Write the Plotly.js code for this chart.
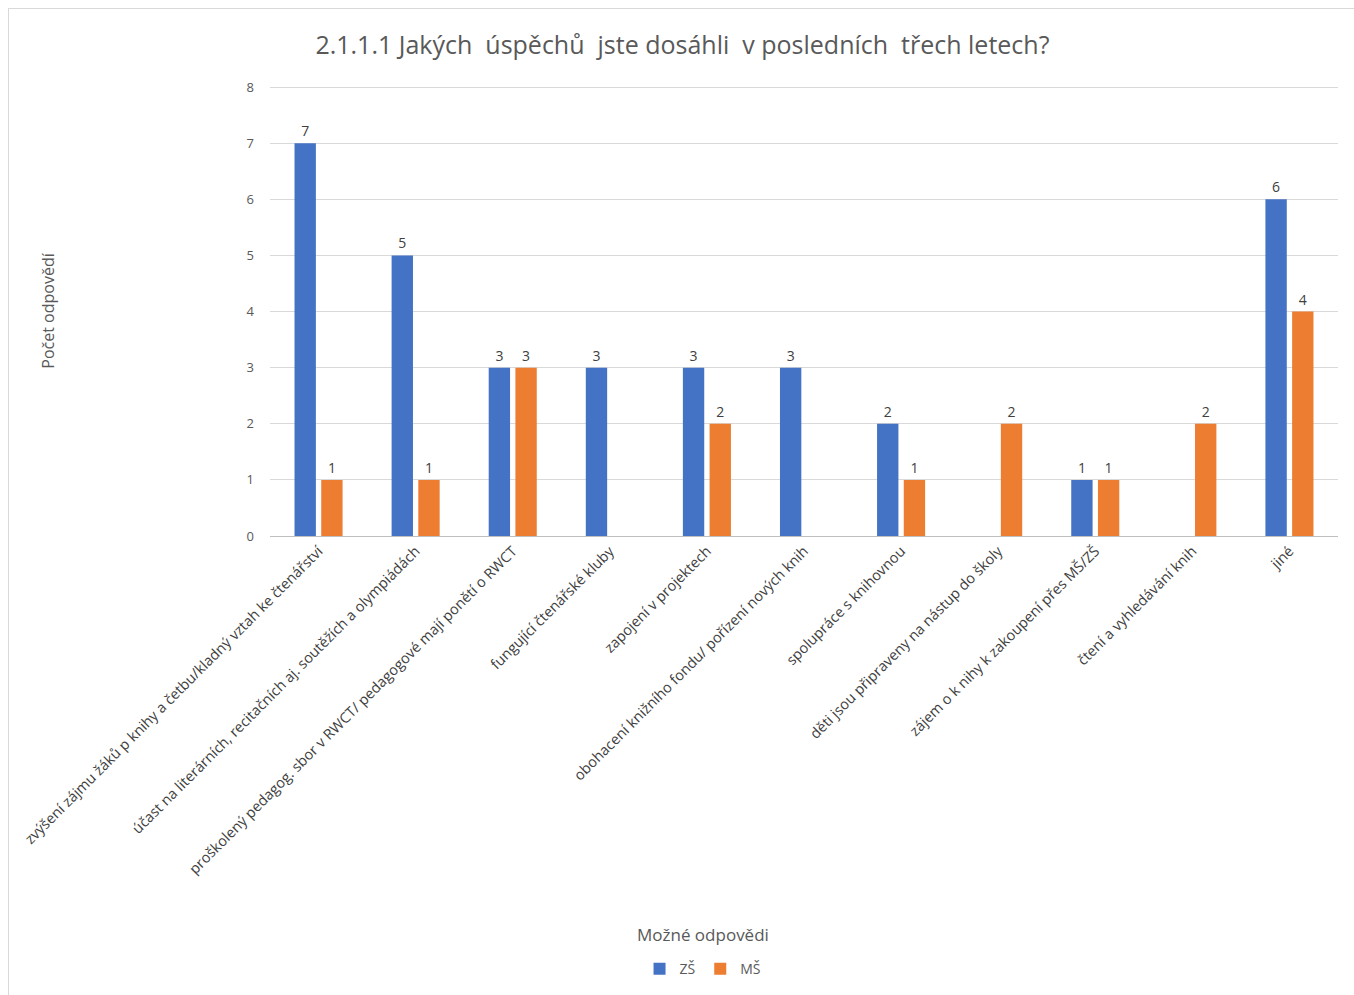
<!DOCTYPE html>
<html>
<head>
<meta charset="utf-8">
<script src="https://cdn.plot.ly/plotly-3.0.1.min.js"></script>
<style>
html,body{margin:0;padding:0;background:#fff;overflow:hidden;}
#frame{position:absolute;left:8px;top:8px;width:1400px;height:1100px;border:1px solid #d9d9d9;box-sizing:border-box;}
#chart{position:absolute;left:0;top:0;width:1354px;height:995px;}
</style>
</head>
<body>
<div id="frame"></div>
<div id="chart"></div>
<script>
const categories = [
  "zvýšení zájmu žáků p knihy a četbu/kladný vztah ke čtenářství",
  "účast na literárních, recitačních aj. soutěžích a olympiádách",
  "proškolený pedagog. sbor v RWCT/ pedagogové mají ponětí o RWCT",
  "fungující čtenářské kluby",
  "zapojení v projektech",
  "obohacení knižního fondu/ pořízení nových knih",
  "spolupráce s knihovnou",
  "děti jsou připraveny na nástup do školy",
  "zájem o k nihy k zakoupení přes MŠ/ZŠ",
  "čtení a vyhledávání knih",
  "jiné"
];
const seriesNames = ["ZŠ", "MŠ"];
const valuesZS = [7, 5, 3, 3, 3, 3, 2, 0, 1, 0, 6];
const valuesMS = [1, 1, 3, 0, 2, 0, 1, 2, 1, 2, 4];
const yTicks = [0, 1, 2, 3, 4, 5, 6, 7, 8];
const titleText = "2.1.1.1 Jakých  úspěchů  jste dosáhli  v posledních  třech letech?";
const xTitle = "Možné odpovědi";
const yTitle = "Počet odpovědí";

const FONT = "Open Sans, Noto Sans, sans-serif";
const labelOf = v => v ? String(v) : "";

const traces = [
  {type:"bar", name:seriesNames[0], x:categories, y:valuesZS, marker:{color:"#4472C4"},
   text:valuesZS.map(labelOf), textposition:"outside", cliponaxis:false,
   textfont:{size:14, color:"#404040", family:FONT}, hoverinfo:"y"},
  {type:"bar", name:seriesNames[1], x:categories, y:valuesMS, marker:{color:"#ED7D31"},
   text:valuesMS.map(labelOf), textposition:"outside", cliponaxis:false,
   textfont:{size:14, color:"#404040", family:FONT}, hoverinfo:"y"}
];

const layout = {
  width:1354, height:995,
  paper_bgcolor:"rgba(0,0,0,0)", plot_bgcolor:"rgba(0,0,0,0)",
  margin:{l:270, r:16, t:86, b:458},
  font:{family:FONT, color:"#595959"},
  title:{text:titleText, font:{size:25, color:"#595959", family:FONT}, xref:"container", x:0.504, y:0.955, yanchor:"middle"},
  barmode:"group", bargap:0.45, bargroupgap:0.2,
  showlegend:true,
  legend:{orientation:"h", x:0.405, xanchor:"center", y:-0.958, yanchor:"middle",
          font:{size:14, color:"#595959", family:FONT}, itemwidth:30, traceorder:"normal"},
  xaxis:{type:"category", tickangle:-45, tickfont:{size:14.5, color:"#404040", family:FONT},
         showline:true, linecolor:"#bfbfbf", linewidth:1, ticks:"", showgrid:false, automargin:false, fixedrange:true},
  yaxis:{range:[0,8.02], tickvals:yTicks, showgrid:true, gridcolor:"#d9d9d9", zeroline:false,
         tickfont:{size:13, color:"#595959", family:FONT}, ticks:"", ticklabelstandoff:15,
         title:{text:yTitle, font:{size:16, color:"#595959", family:FONT}, standoff:187}, automargin:false, fixedrange:true},
  annotations:[
    {text:xTitle, xref:"paper", yref:"paper", x:0.405, y:-0.885, xanchor:"center", yanchor:"middle",
     showarrow:false, font:{size:17, color:"#595959", family:FONT}}
  ]
};

Plotly.newPlot("chart", traces, layout, {displayModeBar:false, staticPlot:true});
</script>
</body>
</html>
